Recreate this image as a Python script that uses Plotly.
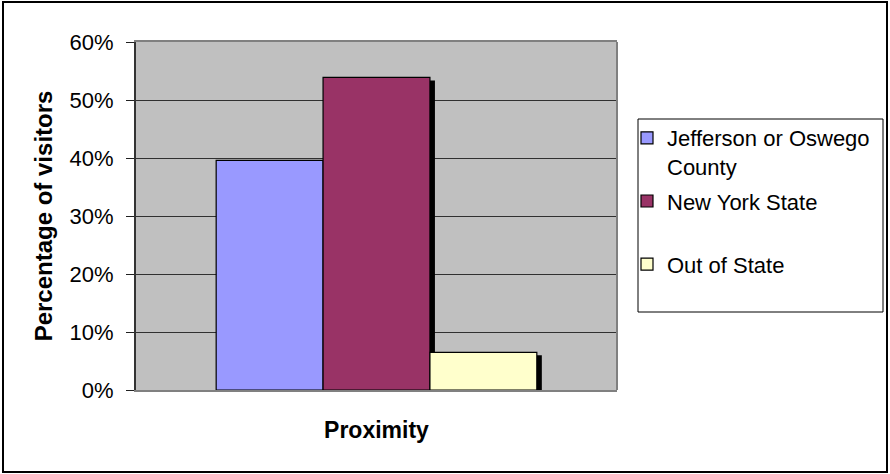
import plotly.graph_objects as go

# Share of visitors by where they came from
series_names = ["Jefferson or Oswego<br>County", "New York State<br> ", "Out of State"]
series_values = [39.6, 53.9, 6.5]
series_colors = ["#9999FF", "#993366", "#FFFFCC"]
y_tick_values = [0, 10, 20, 30, 40, 50, 60]
y_tick_labels = ["0%", "10%", "20%", "30%", "40%", "50%", "60%"]

W, H = 890, 474
ML, MR, MT, MB = 136, 273, 42, 84
PW, PH = W - ML - MR, H - MT - MB
X_RANGE = (-0.75, 0.75)
Y_RANGE = (0, 60)
FONT = "Liberation Sans, Arial, sans-serif"


def px_x(px):
    return (px - ML) / PW


def px_y(py):
    return (H - MB - py) / PH


# drop-shadow offset, in pixels converted to data units
shadow_dx = 5 * (X_RANGE[1] - X_RANGE[0]) / PW
shadow_dy = 3 * (Y_RANGE[1] - Y_RANGE[0]) / PH

n = len(series_values)
bar_w = 1.0 / n
offsets = [-0.5 + i * bar_w for i in range(n)]

fig = go.Figure()

# black shadows behind each bar
for i, v in enumerate(series_values):
    fig.add_trace(go.Bar(
        x=[0], y=[v - shadow_dy], width=[bar_w], offset=offsets[i] + shadow_dx,
        marker=dict(color="#000000", line=dict(width=0)),
        showlegend=False, hoverinfo="skip",
    ))

for i, (name, v, c) in enumerate(zip(series_names, series_values, series_colors)):
    fig.add_trace(go.Bar(
        x=[0], y=[v], width=[bar_w], offset=offsets[i], name=name,
        legendgroup=f"g{i}",
        marker=dict(color=c, line=dict(color="#000000", width=1.2)),
    ))

fig.update_layout(
    width=W, height=H,
    margin=dict(l=ML, r=MR, t=MT, b=MB, autoexpand=False),
    paper_bgcolor="#FFFFFF",
    plot_bgcolor="#C0C0C0",
    barmode="overlay",
    font=dict(family=FONT, color="#000000", size=22),
    showlegend=True,
    legend=dict(
        x=px_x(627), y=px_y(117), xanchor="left", yanchor="top",
        bgcolor="rgba(0,0,0,0)", borderwidth=0,
        font=dict(family=FONT, size=22, color="#000000"),
        valign="top", traceorder="grouped", tracegroupgap=3,
        itemwidth=30,
    ),
    xaxis=dict(
        range=list(X_RANGE), showticklabels=False, ticks="",
        showgrid=False, zeroline=False,
        showline=True, linecolor="#808080", linewidth=2, mirror=True,
        layer="below traces",
        title=dict(text="Proximity", standoff=31,
                   font=dict(family=FONT, size=23, weight="bold")),
    ),
    yaxis=dict(
        range=list(Y_RANGE), tickmode="array",
        tickvals=y_tick_values, ticktext=y_tick_labels,
        ticks="outside", ticklen=8, tickcolor="#202020", tickwidth=1,
        ticklabelstandoff=8,
        tickfont=dict(family=FONT, size=22),
        showgrid=True, gridcolor="#303030", gridwidth=1,
        zeroline=False,
        showline=True, linecolor="#333333", linewidth=2,
        layer="below traces",
        title=dict(text="Percentage of visitors", standoff=10,
                   font=dict(family=FONT, size=24, weight="bold")),
    ),
    shapes=[
        # right edge of the plot frame
        dict(type="line", xref="paper", yref="paper", x0=1, x1=1, y0=0, y1=1,
             line=dict(color="#808080", width=2), layer="above"),
        # legend frame
        dict(type="rect", xref="paper", yref="paper",
             x0=px_x(638), x1=px_x(883), y0=px_y(312), y1=px_y(119),
             line=dict(color="#000000", width=1), fillcolor="rgba(0,0,0,0)"),
        # chart border
        dict(type="rect", xref="paper", yref="paper",
             x0=px_x(3), x1=px_x(887), y0=px_y(472), y1=px_y(2),
             line=dict(color="#000000", width=2), fillcolor="rgba(0,0,0,0)"),
    ],
)

fig.write_html("out.html")
